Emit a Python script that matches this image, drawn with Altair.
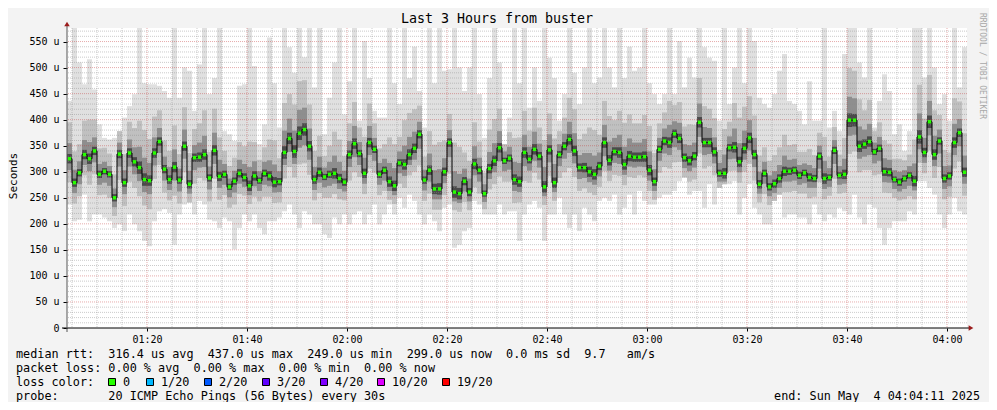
import altair as alt
import pandas as pd

# time axis in minutes after midnight (01:04 .. 04:04), one value per minute
START = 64
X_DOM = [64, 244]
Y_DOM = [0, 576]

median = [325, 279, 298, 333, 325, 340, 295, 301, 295, 250,
          334, 279, 336, 319, 308, 285, 283, 336, 358, 305,
          285, 309, 284, 349, 276, 327, 328, 333, 288, 341,
          291, 295, 271, 282, 297, 289, 273, 292, 283, 297,
          292, 280, 281, 337, 364, 339, 374, 381, 349, 285,
          299, 290, 295, 297, 287, 280, 333, 354, 335, 297,
          356, 343, 295, 303, 281, 273, 317, 314, 333, 345,
          372, 284, 303, 267, 267, 300, 356, 261, 258, 282,
          261, 315, 303, 258, 306, 321, 346, 321, 326, 285,
          281, 337, 324, 343, 330, 271, 342, 279, 333, 349,
          362, 340, 308, 308, 300, 295, 311, 356, 322, 339,
          337, 314, 330, 328, 328, 329, 303, 281, 343, 359,
          356, 373, 364, 327, 321, 330, 395, 356, 356, 338,
          297, 297, 346, 347, 319, 345, 365, 333, 276, 297,
          271, 277, 287, 301, 301, 303, 293, 298, 289, 287,
          330, 287, 289, 341, 293, 295, 399, 399, 349, 353,
          358, 338, 345, 300, 299, 285, 280, 287, 293, 282,
          367, 337, 396, 333, 359, 287, 292, 356, 375, 299]

smoke_max = [436, 576, 510, 468, 516, 458, 391, 365, 362, 365,
             378, 404, 426, 449, 576, 470, 468, 468, 465, 455,
             442, 576, 442, 500, 494, 417, 506, 576, 449, 480,
             576, 378, 372, 359, 465, 468, 576, 503, 353, 391,
             558, 470, 385, 576, 539, 490, 576, 520, 576, 462,
             576, 372, 442, 510, 576, 410, 474, 576, 398, 551,
             480, 417, 404, 404, 576, 470, 430, 576, 480, 540,
             455, 385, 576, 470, 576, 494, 497, 576, 500, 455,
             500, 576, 449, 365, 480, 576, 510, 353, 404, 576,
             470, 576, 423, 500, 436, 576, 519, 480, 398, 449,
             576, 490, 430, 500, 576, 470, 481, 576, 500, 462,
             576, 480, 540, 494, 500, 576, 470, 449, 430, 449,
             576, 449, 551, 462, 519, 481, 576, 539, 519, 513,
             398, 576, 430, 500, 576, 470, 576, 551, 442, 430,
             423, 449, 494, 526, 436, 430, 417, 391, 474, 398,
             398, 576, 385, 417, 378, 526, 576, 576, 510, 481,
             576, 385, 436, 487, 455, 372, 391, 340, 378, 576,
             576, 481, 576, 500, 430, 449, 398, 576, 462, 539]

smoke_min = [237, 205, 208, 256, 205, 218, 218, 212, 205, 192,
             199, 186, 218, 199, 186, 167, 157, 205, 224, 228,
             221, 160, 218, 237, 241, 218, 244, 237, 208, 205,
             192, 212, 205, 151, 192, 218, 205, 218, 192, 180,
             205, 205, 212, 224, 237, 218, 192, 224, 218, 199,
             199, 180, 173, 212, 199, 218, 199, 218, 224, 199,
             218, 237, 199, 218, 237, 218, 250, 231, 256, 244,
             218, 199, 218, 205, 186, 231, 237, 154, 160, 186,
             192, 244, 237, 218, 218, 218, 237, 218, 224, 224,
             167, 218, 237, 244, 231, 167, 218, 218, 250, 218,
             192, 218, 186, 231, 218, 205, 244, 250, 244, 256,
             218, 231, 256, 218, 263, 244, 237, 237, 250, 256,
             256, 263, 282, 289, 256, 263, 263, 231, 276, 237,
             269, 276, 276, 282, 218, 250, 276, 231, 218, 199,
             199, 244, 256, 212, 218, 218, 212, 212, 199, 237,
             218, 205, 218, 212, 231, 224, 218, 256, 212, 199,
             237, 231, 192, 160, 192, 205, 205, 205, 224, 218,
             282, 282, 269, 256, 218, 192, 218, 250, 224, 218]

# spread of the inner smoke bands above / below the median (us)
a_up = [70, 60, 55, 65, 75, 60, 50, 45, 40, 45,
        50, 55, 60, 65, 90, 95, 80, 70, 60, 55,
        55, 80, 50, 75, 60, 55, 65, 85, 50, 80,
        75, 45, 40, 45, 60, 60, 85, 65, 40, 50,
        70, 80, 45, 95, 85, 90, 100, 95, 80, 55,
        70, 40, 55, 80, 75, 50, 60, 80, 50, 70,
        75, 50, 50, 50, 85, 80, 50, 85, 80, 75,
        55, 45, 75, 85, 90, 60, 55, 95, 90, 55,
        60, 80, 55, 40, 75, 80, 75, 40, 50, 80,
        85, 80, 55, 80, 55, 90, 70, 85, 45, 55,
        80, 80, 55, 65, 85, 85, 60, 80, 85, 60,
        80, 80, 80, 65, 65, 80, 85, 55, 50, 55,
        80, 55, 70, 60, 70, 60, 85, 70, 65, 65,
        45, 85, 50, 85, 85, 80, 80, 75, 55, 50,
        50, 55, 60, 70, 50, 50, 45, 40, 55, 45,
        45, 80, 40, 45, 40, 70, 100, 95, 90, 65,
        80, 40, 50, 60, 55, 40, 45, 35, 40, 80,
        100, 65, 90, 85, 50, 55, 45, 85, 60, 75]

a_dn = [45, 40, 45, 40, 50, 45, 40, 45, 45, 35,
        50, 45, 55, 50, 55, 50, 55, 50, 45, 45,
        40, 55, 45, 50, 35, 50, 40, 50, 45, 55,
        45, 40, 40, 45, 40, 35, 35, 40, 40, 45,
        40, 40, 40, 50, 55, 50, 60, 65, 55, 40,
        40, 40, 45, 40, 40, 35, 50, 55, 45, 40,
        50, 45, 40, 40, 35, 35, 40, 45, 40, 45,
        60, 40, 45, 40, 40, 45, 60, 35, 35, 40,
        35, 45, 45, 30, 40, 45, 55, 40, 45, 45,
        40, 55, 45, 45, 45, 35, 50, 35, 45, 50,
        55, 50, 45, 40, 40, 40, 40, 55, 40, 45,
        45, 40, 40, 40, 35, 40, 40, 35, 45, 50,
        50, 55, 45, 40, 40, 45, 60, 50, 45, 45,
        30, 30, 45, 45, 40, 45, 50, 50, 35, 40,
        35, 35, 35, 40, 40, 40, 35, 40, 40, 35,
        50, 40, 35, 55, 35, 35, 65, 60, 50, 50,
        55, 45, 50, 40, 40, 35, 35, 40, 40, 35,
        50, 40, 55, 45, 50, 40, 40, 50, 55, 45]

b_up = [30, 25, 22, 28, 32, 26, 20, 18, 16, 18,
        22, 24, 26, 28, 40, 42, 34, 30, 26, 24,
        24, 34, 22, 32, 26, 24, 28, 36, 22, 34,
        32, 20, 16, 20, 26, 26, 36, 28, 18, 22,
        30, 34, 20, 42, 38, 40, 45, 42, 34, 24,
        30, 18, 24, 34, 32, 22, 26, 34, 22, 30,
        32, 22, 22, 22, 36, 34, 22, 36, 34, 32,
        24, 20, 32, 36, 38, 26, 24, 40, 38, 24,
        26, 34, 24, 18, 32, 34, 32, 18, 22, 34,
        36, 34, 24, 34, 24, 38, 30, 36, 20, 24,
        34, 34, 24, 28, 36, 36, 26, 34, 36, 26,
        34, 34, 34, 28, 28, 34, 36, 24, 22, 24,
        34, 24, 30, 26, 30, 26, 36, 30, 28, 28,
        20, 36, 22, 36, 36, 34, 34, 32, 24, 22,
        22, 24, 26, 30, 22, 22, 20, 18, 24, 20,
        20, 34, 18, 20, 18, 30, 45, 42, 38, 28,
        34, 18, 22, 26, 24, 18, 20, 16, 18, 34,
        45, 28, 40, 36, 22, 24, 20, 36, 26, 32]

b_dn = [22, 20, 22, 20, 24, 22, 20, 22, 22, 18,
        24, 22, 26, 24, 26, 24, 26, 24, 22, 22,
        20, 26, 22, 24, 18, 24, 20, 24, 22, 26,
        22, 20, 20, 22, 20, 18, 18, 20, 20, 22,
        20, 20, 20, 24, 26, 24, 28, 30, 26, 20,
        20, 20, 22, 20, 20, 18, 24, 26, 22, 20,
        24, 22, 20, 20, 18, 18, 20, 22, 20, 22,
        28, 20, 22, 20, 20, 22, 28, 18, 18, 20,
        18, 22, 22, 16, 20, 22, 26, 20, 22, 22,
        20, 26, 22, 22, 22, 18, 24, 18, 22, 24,
        26, 24, 22, 20, 20, 20, 20, 26, 20, 22,
        22, 20, 20, 20, 18, 20, 20, 18, 22, 24,
        24, 26, 22, 20, 20, 22, 28, 24, 22, 22,
        16, 16, 22, 22, 20, 22, 24, 24, 18, 20,
        18, 18, 18, 20, 20, 20, 18, 20, 20, 18,
        24, 20, 18, 26, 18, 18, 30, 28, 24, 24,
        26, 22, 24, 20, 20, 18, 18, 20, 20, 18,
        24, 20, 26, 22, 24, 20, 20, 24, 26, 22]

c_w = [9, 8, 7, 9, 10, 8, 7, 6, 6, 7,
       8, 8, 9, 9, 12, 12, 10, 9, 8, 8,
       8, 10, 7, 9, 8, 8, 9, 10, 7, 10,
       9, 7, 6, 7, 8, 8, 10, 9, 6, 7,
       9, 10, 7, 12, 11, 12, 13, 12, 10, 8,
       9, 6, 7, 10, 9, 7, 8, 10, 7, 9,
       9, 7, 7, 7, 10, 10, 7, 10, 10, 9,
       8, 7, 9, 10, 11, 8, 8, 11, 11, 8,
       8, 10, 8, 6, 9, 10, 9, 6, 7, 10,
       10, 10, 8, 10, 8, 11, 9, 10, 7, 8,
       10, 10, 8, 9, 10, 10, 8, 10, 10, 8,
       10, 10, 10, 9, 9, 10, 10, 8, 7, 8,
       10, 8, 9, 8, 9, 8, 10, 9, 9, 9,
       7, 10, 7, 10, 10, 10, 10, 9, 8, 7,
       7, 8, 8, 9, 7, 7, 7, 6, 8, 7,
       7, 10, 6, 7, 6, 9, 13, 12, 11, 9,
       10, 6, 7, 8, 8, 6, 7, 6, 6, 10,
       13, 9, 12, 10, 7, 8, 7, 10, 8, 9]

y_ticks = [0, 50, 100, 150, 200, 250, 300, 350, 400, 450, 500, 550]
x_ticks = [80, 100, 120, 140, 160, 180, 200, 220, 240]

title_text = "Last 3 Hours from buster"
side_text = "RRDTOOL / TOBI OETIKER"
line1 = "median rtt:  316.4 us avg  437.0 us max  249.0 us min  299.0 us now  0.0 ms sd  9.7   am/s"
line2 = "packet loss: 0.00 % avg  0.00 % max  0.00 % min  0.00 % now"
line3 = "loss color:"
line4 = "probe:       20 ICMP Echo Pings (56 Bytes) every 30s"
end_text = "end: Sun May  4 04:04:11 2025"
loss_labels = ["0", "1/20", "2/20", "3/20", "4/20", "10/20", "19/20"]
loss_colors = ["#26ff00", "#00b8ff", "#0059ff", "#5e00ff", "#7e00ff", "#dd00ff", "#ff0000"]

rows = []
for i, m in enumerate(median):
    hi, lo = smoke_max[i], smoke_min[i]
    rows.append({
        "t0": START + i, "t1": START + i + 1, "tc": START + i + 0.5,
        "med": m, "smax": hi, "smin": lo,
        "a_hi": min(m + a_up[i], hi), "a_lo": max(m - a_dn[i], lo),
        "b_hi": min(m + b_up[i], hi), "b_lo": max(m - b_dn[i], lo),
        "c_hi": m + c_w[i], "c_lo": m - c_w[i],
    })
df = pd.DataFrame(rows)

xs = alt.Scale(domain=X_DOM, nice=False, zero=False)
ys = alt.Scale(domain=Y_DOM, nice=False, zero=False)
MONO = "DejaVu Sans Mono"

x_label_expr = ("(floor(datum.value/60) < 10 ? '0' : '') + floor(datum.value/60) + ':' + "
                "(datum.value % 60 < 10 ? '0' : '') + (datum.value % 60)")

AX_X = alt.Axis(values=x_ticks, labelExpr=x_label_expr, title=None, grid=False, domain=False,
                labelFont=MONO, labelFontSize=10, labelColor="black", tickColor="black",
                tickSize=3, labelPadding=3, labelFlush=False)
AX_Y = alt.Axis(values=y_ticks, labelExpr="datum.value == 0 ? '0' : datum.value + ' u'",
                title=None, grid=False, domain=False, labelFont=MONO, labelFontSize=10,
                labelColor="black", tickColor="black", tickSize=4, labelPadding=4)

base = alt.Chart(df)


def band(lo, hi, color):
    return base.mark_rect(color=color, clip=True).encode(
        x=alt.X("t0:Q", scale=xs, axis=AX_X), x2="t1:Q",
        y=alt.Y(f"{lo}:Q", scale=ys, axis=AX_Y), y2=f"{hi}:Q")


outer = band("smin", "smax", "#e0e0e0")
band_a = band("a_lo", "a_hi", "#c0c0c0")
band_b = band("b_lo", "b_hi", "#8e8e8e")
band_c = band("c_lo", "c_hi", "#4a4a4a")

minor_y = pd.DataFrame({"v": [v for v in range(10, 580, 10) if v % 50]})
major_y = pd.DataFrame({"v": y_ticks[1:]})
minor_x = pd.DataFrame({"t": [t for t in range(65, 244, 5) if t % 20]})
major_x = pd.DataFrame({"t": x_ticks})

grid_minor_y = alt.Chart(minor_y).mark_rule(color="#8c8c8c", strokeOpacity=0.45, strokeDash=[1, 1]).encode(
    y=alt.Y("v:Q", scale=ys, axis=AX_Y))
grid_major_y = alt.Chart(major_y).mark_rule(color="#c03030", strokeOpacity=0.4, strokeDash=[1, 1]).encode(
    y=alt.Y("v:Q", scale=ys, axis=AX_Y))
grid_minor_x = alt.Chart(minor_x).mark_rule(color="#8c8c8c", strokeOpacity=0.45, strokeDash=[1, 1]).encode(
    x=alt.X("t:Q", scale=xs, axis=AX_X))
grid_major_x = alt.Chart(major_x).mark_rule(color="#c03030", strokeOpacity=0.4, strokeDash=[1, 1]).encode(
    x=alt.X("t:Q", scale=xs, axis=AX_X))

med_line = base.mark_line(interpolate="step", color="black", strokeWidth=1).encode(
    x=alt.X("tc:Q", scale=xs, axis=AX_X), y=alt.Y("med:Q", scale=ys, axis=AX_Y))
med_dots = base.mark_square(size=12, color=loss_colors[0], opacity=1).encode(
    x=alt.X("tc:Q", scale=xs, axis=AX_X), y=alt.Y("med:Q", scale=ys, axis=AX_Y))

one = pd.DataFrame({"k": [0]})
x_axis_line = alt.Chart(one).mark_rule(color="black", strokeWidth=1).encode(
    x=alt.value(-5), x2=alt.value(903), y=alt.value(300))
y_axis_line = alt.Chart(one).mark_rule(color="#555555", strokeWidth=1).encode(
    x=alt.value(0), y=alt.value(-4), y2=alt.value(304))
arrow_r = alt.Chart(one).mark_point(shape="triangle-right", filled=True, color="#9b1c1c", size=30, opacity=1).encode(
    x=alt.value(904), y=alt.value(300))
arrow_u = alt.Chart(one).mark_point(shape="triangle-up", filled=True, color="#9b1c1c", size=30, opacity=1).encode(
    x=alt.value(0), y=alt.value(-4))


def txt(s, x, y, size=11.8, align="left", color="black", angle=0):
    d = pd.DataFrame({"s": [s.replace(" ", "\u00a0")]})
    return alt.Chart(d).mark_text(align=align, baseline="middle", font=MONO, fontSize=size,
                                  color=color, angle=angle).encode(
        text="s:N", x=alt.value(x), y=alt.value(y))


texts = [
    txt(title_text, 430, -9, size=13.3, align="center"),
    txt("Seconds", -53, 148, size=11, align="center", angle=270),
    txt(side_text, 915, 38, size=8, align="center", color="#a8a8a8", angle=90),
    txt(line1, -51, 326),
    txt(line2, -51, 340),
    txt(line3, -51, 354),
    txt(line4, -51, 368),
    txt(end_text, 913, 368, align="right"),
]

sq_px = [108, 146, 204, 262, 320, 377, 442]
legend_layers = []
for lab, col, px in zip(loss_labels, loss_colors, sq_px):
    legend_layers.append(
        alt.Chart(one).mark_square(size=49, filled=True, color=col, stroke="black",
                                   strokeWidth=1, opacity=1).encode(
            x=alt.value(px + 4 - 67), y=alt.value(354)))
    legend_layers.append(txt(lab, px + 15 - 67, 354))

chart = alt.layer(
    outer, band_a, band_b, band_c,
    grid_minor_y, grid_minor_x, grid_major_y, grid_major_x,
    med_line, med_dots,
    x_axis_line, y_axis_line, arrow_r, arrow_u,
    *texts, *legend_layers,
).properties(
    width=900, height=300,
    padding={"left": 59, "top": 20, "right": 22, "bottom": 74},
    autosize=alt.AutoSizeParams(type="none"),
    background="#f3f3f3",
).configure_view(fill="white", stroke=None)

chart.save("out.html", embed_options={"renderer": "svg", "actions": False})
